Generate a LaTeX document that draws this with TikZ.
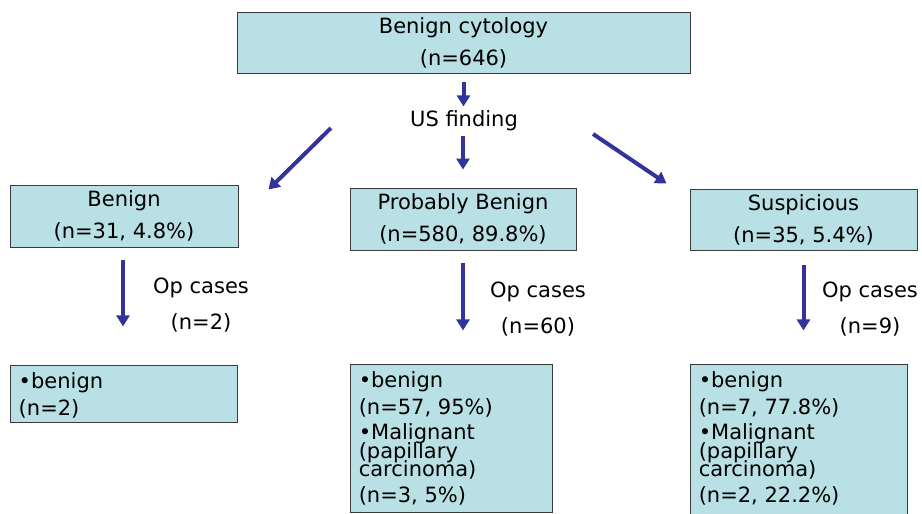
\documentclass[tikz,border=0pt]{standalone}
\usepackage{fontspec}
\setmainfont{DejaVu Sans}
\usetikzlibrary{calc,arrows.meta}
\definecolor{boxfill}{HTML}{B9E0E4}
\definecolor{boxline}{HTML}{3A3A3A}
\definecolor{arrblue}{HTML}{333399}
\newcommand\mytightlines{\lineskiplimit=-30pt\relax\lineskip=0pt\relax}
\tikzset{
  box/.style={draw=boxline, fill=boxfill, line width=0.9pt, inner sep=0pt, align=center,
    font=\fontsize{21}{32}\selectfont},
  lbl/.style={inner sep=0pt, align=center, font=\fontsize{21}{32}\selectfont},
  oplbl/.style={inner sep=0pt, align=center, font=\fontsize{21}{36}\selectfont},
  arr/.style={draw=arrblue, line width=4pt, -{Triangle[length=11pt,width=13pt]}},
  btxt/.style={inner sep=0pt, anchor=north west, align=left,
    font=\fontsize{21}{18.5}\selectfont\mytightlines}
}
\begin{document}
\begin{tikzpicture}[x=1pt,y=-1pt]
\useasboundingbox (0,0) rectangle (922,514);
% level 0
\node[box, minimum width=453pt, minimum height=61pt] (top) at (463.5,42.5) {Benign cytology\\(n=646)};
\node[lbl] (us) at (464,121) {US finding};
% level 1
\node[box, minimum width=228pt, minimum height=62pt] (benign) at (124,216) {Benign\\(n=31, 4.8\%)};
\node[box, minimum width=226pt, minimum height=62pt] (prob) at (463,219) {Probably Benign\\(n=580, 89.8\%)};
\node[box, minimum width=227pt, minimum height=61pt] (susp) at (803.5,219.5) {Suspicious\\(n=35, 5.4\%)};
% level 2 boxes
\node[box, minimum width=227pt, minimum height=57pt] (bl) at (123.5,393.5) {};
\node[box, minimum width=202pt, minimum height=148pt] (bm) at (451,438) {};
\node[box, minimum width=217pt, minimum height=176pt] (br) at (798.5,452) {};
\node[btxt] (blt) at ($(bl.north west)+(9,8)$) {•benign\\[8.5pt](n=2)};
\node[btxt] (bmt) at ($(bm.north west)+(9,8)$) {•benign\\[8.5pt](n=57, 95\%)\\[6.5pt]•Malignant\\(papillary\\carcinoma)\\[7.5pt](n=3, 5\%)};
\node[btxt] (brt) at ($(br.north west)+(9,8)$) {•benign\\[8.5pt](n=7, 77.8\%)\\[6.5pt]•Malignant\\(papillary\\carcinoma)\\[7.5pt](n=2, 22.2\%)};
% op labels
\node[oplbl] (opl) at (201,305) {Op cases\\(n=2)};
\node[oplbl] (opm) at (538,309) {Op cases\\(n=60)};
\node[oplbl] (opr) at (870,309) {Op cases\\(n=9)};
% arrows
\draw[arr] ($(top.south)+(0,9)$) -- ($(top.south)+(0,33)$);
\draw[arr] ($(us.west)+(-79,7)$) -- ($(benign.north east)+(30,5)$);
\draw[arr] ($(prob.north)+(0,-52)$) -- ($(prob.north)+(0,-18)$);
\draw[arr] ($(us.east)+(75,13)$) -- ($(susp.north west)+(-23,-5)$);
\draw[arr] ($(benign.south)+(-1,13)$) -- ($(benign.south)+(-1,79)$);
\draw[arr] ($(prob.south)+(0,13)$) -- ($(prob.south)+(0,80)$);
\draw[arr] ($(susp.south)+(0,15)$) -- ($(susp.south)+(0,80)$);
\end{tikzpicture}
\end{document}
